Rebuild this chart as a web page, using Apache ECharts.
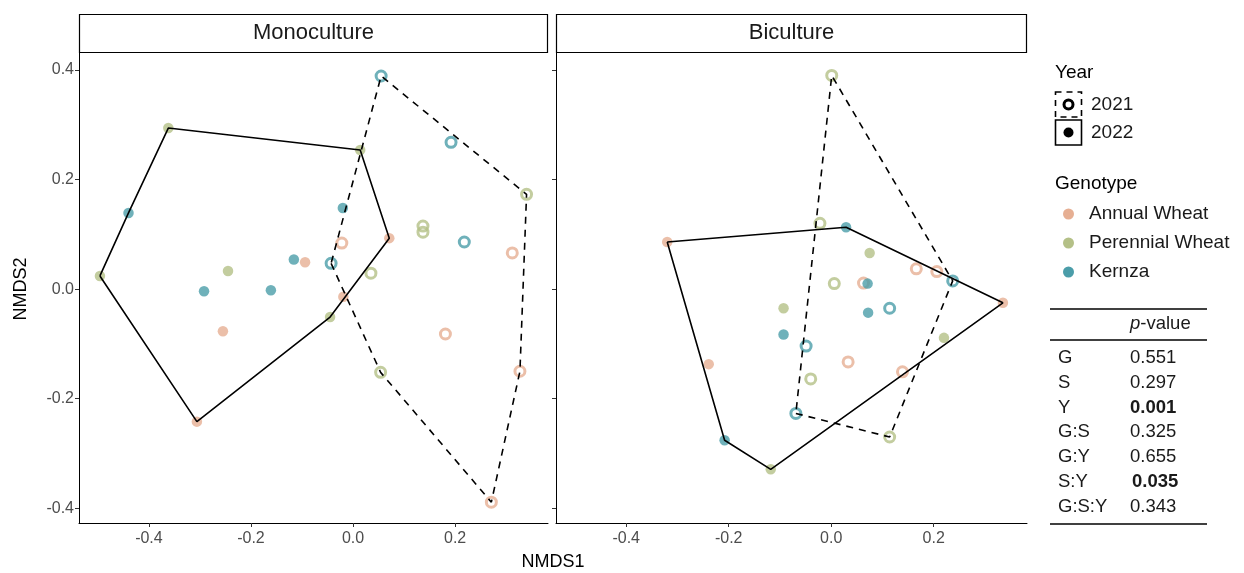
<!DOCTYPE html>
<html>
<head>
<meta charset="utf-8">
<script src="https://cdn.jsdelivr.net/npm/echarts@6/dist/echarts.min.js"></script>
<style>
  html, body { margin: 0; padding: 0; background: #fff; }
  #chart { width: 1244px; height: 573px; }
</style>
</head>
<body>
<div id="chart"></div>
<script>
// NMDS ordination scores, [NMDS1, NMDS2], per cropping system, genotype and year
const monoAnnual2022    = [[-0.306, -0.242], [-0.255, -0.077], [-0.094, 0.049], [0.071, 0.093], [-0.019, -0.014]];
const monoPerennial2022 = [[-0.362, 0.294], [-0.496, 0.024], [-0.245, 0.033], [0.014, 0.254], [-0.045, -0.051]];
const monoKernza2022    = [[-0.440, 0.139], [-0.292, -0.004], [-0.161, -0.002], [-0.116, 0.054], [-0.020, 0.148]];

const monoAnnual2021    = [[-0.022, 0.084], [0.312, 0.066], [0.181, -0.082], [0.327, -0.150], [0.271, -0.389]];
const monoPerennial2021 = [[0.340, 0.173], [0.137, 0.115], [0.137, 0.104], [0.035, 0.029], [0.054, -0.152]];
const monoKernza2021    = [[0.055, 0.389], [0.192, 0.268], [0.218, 0.086], [-0.043, 0.047]];

const biAnnual2022      = [[-0.320, 0.086], [0.335, -0.025], [-0.239, -0.137]];
const biPerennial2022   = [[0.220, -0.089], [-0.118, -0.329], [-0.093, -0.035], [0.075, 0.066]];
const biKernza2022      = [[0.029, 0.113], [-0.208, -0.276], [-0.093, -0.083], [0.071, 0.010], [0.072, -0.043]];

const biAnnual2021      = [[0.063, 0.011], [0.166, 0.037], [0.206, 0.032], [0.033, -0.133], [0.139, -0.151]];
const biPerennial2021   = [[0.001, 0.390], [-0.022, 0.120], [0.006, 0.010], [-0.040, -0.164], [0.114, -0.270]];
const biKernza2021      = [[0.237, 0.015], [0.114, -0.035], [-0.049, -0.104], [-0.069, -0.227]];

const panels    = ['Monoculture', 'Biculture'];
const genotypes = ['Annual Wheat', 'Perennial Wheat', 'Kernza'];
const years     = ['2021', '2022'];
const xTicks    = [-0.4, -0.2, 0.0, 0.2];
const yTicks    = [-0.4, -0.2, 0.0, 0.2, 0.4];

// PERMANOVA terms and p-values
const terms   = ['G', 'S', 'Y', 'G:S', 'G:Y', 'S:Y', 'G:S:Y'];
const pValues = ['0.551', '0.297', '0.001', '0.325', '0.655', '0.035', '0.343'];
const significant = [false, false, true, false, false, true, false];

const palette = { 'Annual Wheat': '#E6AF93', 'Perennial Wheat': '#B4C087', 'Kernza': '#4B9DA9' };

const scores = {
  Monoculture: {
    '2021': [monoAnnual2021, monoPerennial2021, monoKernza2021],
    '2022': [monoAnnual2022, monoPerennial2022, monoKernza2022]
  },
  Biculture: {
    '2021': [biAnnual2021, biPerennial2021, biKernza2021],
    '2022': [biAnnual2022, biPerennial2022, biKernza2022]
  }
};

// convex hull (monotone chain), returned closed
function convexHull(pts) {
  const p = pts.slice().sort((a, b) => a[0] - b[0] || a[1] - b[1]);
  const cross = (o, a, b) => (a[0] - o[0]) * (b[1] - o[1]) - (a[1] - o[1]) * (b[0] - o[0]);
  const lower = [], upper = [];
  for (const q of p) {
    while (lower.length >= 2 && cross(lower[lower.length - 2], lower[lower.length - 1], q) <= 0) lower.pop();
    lower.push(q);
  }
  for (let i = p.length - 1; i >= 0; i--) {
    const q = p[i];
    while (upper.length >= 2 && cross(upper[upper.length - 2], upper[upper.length - 1], q) <= 0) upper.pop();
    upper.push(q);
  }
  const hull = lower.slice(0, -1).concat(upper.slice(0, -1));
  hull.push(hull[0]);
  return hull;
}

const X_MIN = -0.537, X_MAX = 0.382, Y_MIN = -0.427, Y_MAX = 0.431;
const FONT = '"Liberation Sans", Arial, sans-serif';
const fmt = v => v.toFixed(1);

const grids = [
  { left: 79, top: 53, width: 469, height: 470 },
  { left: 556, top: 53, width: 471, height: 470 }
];

const xAxes = grids.map((g, i) => ({
  type: 'value', gridIndex: i, min: X_MIN, max: X_MAX,
  axisLine: { show: true, onZero: false, lineStyle: { color: '#000', width: 1 } },
  axisTick: { show: true, length: 4, lineStyle: { color: '#333' }, customValues: xTicks },
  axisLabel: { show: true, color: '#4d4d4d', fontSize: 16, fontFamily: FONT, margin: 8, formatter: fmt, customValues: xTicks },
  splitLine: { show: false }
}));

const yAxes = grids.map((g, i) => ({
  type: 'value', gridIndex: i, min: Y_MIN, max: Y_MAX,
  axisLine: { show: true, onZero: false, lineStyle: { color: '#000', width: 1 } },
  axisTick: { show: true, length: 4, lineStyle: { color: '#333' }, customValues: yTicks },
  axisLabel: { show: i === 0, color: '#4d4d4d', fontSize: 16, fontFamily: FONT, margin: 5, formatter: fmt, customValues: yTicks },
  splitLine: { show: false }
}));

const series = [];
panels.forEach((panel, pi) => {
  years.forEach(year => {
    const groups = scores[panel][year];
    groups.forEach((pts, gi) => {
      const col = palette[genotypes[gi]];
      const open = year === '2021';
      series.push({
        type: 'scatter', name: genotypes[gi] + ' ' + year,
        xAxisIndex: pi, yAxisIndex: pi, data: pts,
        symbol: 'circle', symbolSize: open ? 10 : 10.5,
        itemStyle: open
          ? { color: 'rgba(255,255,255,0)', borderColor: col, borderWidth: 3 }
          : { color: col, borderWidth: 0 },
        silent: true, z: 2
      });
    });
    const all = [].concat(...groups);
    series.push({
      type: 'line', name: panel + ' hull ' + year,
      xAxisIndex: pi, yAxisIndex: pi, data: convexHull(all),
      symbol: 'none', showSymbol: false, smooth: false,
      lineStyle: { color: '#000', width: 1.6, type: year === '2021' ? [7, 6] : 'solid' },
      silent: true, z: 3
    });
  });
});

// facet strips, axis titles, legends and the p-value table
const graphic = [];
panels.forEach((panel, i) => {
  const g = grids[i];
  graphic.push({
    type: 'rect', shape: { x: g.left + 0.5, y: 14.5, width: g.width - 1, height: 38 },
    style: { fill: '#fff', stroke: '#000', lineWidth: 1.2 }, silent: true
  });
  graphic.push({
    type: 'text', x: g.left + g.width / 2, y: 33,
    style: { text: panel, fill: '#1a1a1a', font: '22px ' + FONT, textAlign: 'center', textVerticalAlign: 'middle' }
  });
});
graphic.push({
  type: 'text', x: 553, y: 562,
  style: { text: 'NMDS1', fill: '#000', font: '18px ' + FONT, textAlign: 'center', textVerticalAlign: 'middle' }
});
graphic.push({
  type: 'text', x: 21, y: 289, rotation: Math.PI / 2,
  style: { text: 'NMDS2', fill: '#000', font: '18px ' + FONT, textAlign: 'center', textVerticalAlign: 'middle' }
});

// Year legend
const LX = 1055;
const LFONT = '19px ' + FONT;
graphic.push({ type: 'text', x: LX, y: 73, style: { text: 'Year', fill: '#000', font: LFONT, textVerticalAlign: 'middle' } });
years.forEach((yr, i) => {
  const cy = 104.5 + i * 28;
  graphic.push({
    type: 'rect', shape: { x: LX + 0.5, y: cy - 12.5, width: 26, height: 25 },
    style: { fill: 'none', stroke: '#000', lineWidth: 1.6, lineDash: i === 0 ? [6, 5] : null }
  });
  graphic.push({
    type: 'circle', shape: { cx: LX + 13.5, cy: cy, r: i === 0 ? 4.5 : 5 },
    style: i === 0 ? { fill: 'none', stroke: '#000', lineWidth: 3 } : { fill: '#000' }
  });
  graphic.push({ type: 'text', x: LX + 36, y: cy, style: { text: yr, fill: '#1a1a1a', font: LFONT, textVerticalAlign: 'middle' } });
});

// Genotype legend
graphic.push({ type: 'text', x: LX, y: 184, style: { text: 'Genotype', fill: '#000', font: LFONT, textVerticalAlign: 'middle' } });
genotypes.forEach((gname, i) => {
  const cy = 214 + i * 29;
  graphic.push({ type: 'circle', shape: { cx: LX + 13.5, cy: cy, r: 5.5 }, style: { fill: palette[gname] } });
  graphic.push({ type: 'text', x: LX + 34, y: cy, style: { text: gname, fill: '#1a1a1a', font: LFONT, textVerticalAlign: 'middle' } });
});

// p-value table
const TL = 1050, TR = 1207;
const TFONT = '18.5px ' + FONT;
[309, 340, 524].forEach(y => {
  graphic.push({ type: 'line', shape: { x1: TL, y1: y, x2: TR, y2: y }, style: { stroke: '#000', lineWidth: 1.5 } });
});
graphic.push({
  type: 'text', x: 1130, y: 324,
  style: {
    text: '{i|p}-value', fill: '#1a1a1a', font: TFONT, textVerticalAlign: 'middle',
    rich: { i: { fontStyle: 'italic', fontSize: 18.5, fontFamily: FONT, fill: '#1a1a1a' } }
  }
});
terms.forEach((t, i) => {
  const cy = 358 + i * 24.8;
  graphic.push({ type: 'text', x: 1058, y: cy, style: { text: t, fill: '#1a1a1a', font: TFONT, textVerticalAlign: 'middle' } });
  graphic.push({
    type: 'text', x: significant[i] && t === 'S:Y' ? 1132 : 1130, y: cy,
    style: { text: pValues[i], fill: '#1a1a1a', font: (significant[i] ? 'bold ' : '') + TFONT, textVerticalAlign: 'middle' }
  });
});

const chart = echarts.init(document.getElementById('chart'), null, { renderer: 'canvas' });
chart.setOption({
  animation: false,
  backgroundColor: '#fff',
  grid: grids,
  xAxis: xAxes,
  yAxis: yAxes,
  series: series,
  graphic: graphic
});
</script>
</body>
</html>
